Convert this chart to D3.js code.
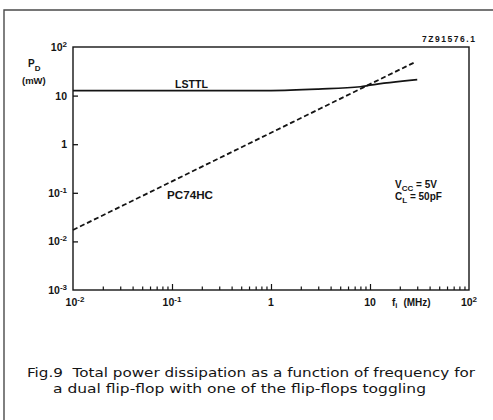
<!DOCTYPE html>
<html><head><meta charset="utf-8">
<script src="https://cdn.jsdelivr.net/npm/d3@7"></script>
<style>html,body{margin:0;padding:0;background:#fff}svg{display:block}</style>
</head><body><svg id="c" width="493" height="420"></svg>
<script>
// ---- data ----
const freqLSTTL = [0.01, 0.1, 1, 3, 8, 10, 30];
const powerLSTTL = [12.6, 12.6, 12.7, 13.6, 15.2, 16.4, 21.3];
const freqHC = [0.01, 0.1, 1, 10, 28];
const powerHC = [0.0172, 0.172, 1.72, 17.2, 48];
const xTickValues = [0.01, 0.1, 1, 10, 100];
const xTickLabels = ["10^-2", "10^-1", "1", "10", "10^2"];
const yTickValues = [100, 10, 1, 0.1, 0.01, 0.001];
const yTickLabels = ["10^2", "10", "1", "10^-1", "10^-2", "10^-3"];
const seriesNames = ["LSTTL", "PC74HC"];
const captionLines = [
  "Fig.9  Total power dissipation as a function of frequency for",
  "a dual flip-flop with one of the flip-flops toggling"
];

// ---- layout ----
const svg = d3.select("#c");
const ink = "#141414";
const L = 73, R = 469, T = 47, B = 290;
const x = d3.scaleLog().domain([0.01, 100]).range([L, R]);
const y = d3.scaleLog().domain([0.001, 100]).range([B, T]);
const font = "'Liberation Sans', Arial, sans-serif";

// outer frame
svg.append("path").attr("d", `M4,420 V10 H493`).attr("fill", "none")
  .attr("stroke", "#4a4a4a").attr("stroke-width", 1.4);

// plot box
svg.append("rect").attr("x", L).attr("y", T).attr("width", R - L).attr("height", B - T)
  .attr("fill", "none").attr("stroke", ink).attr("stroke-width", 1.4);

// x axis ticks (inward)
const minor = x.ticks().filter(v => !xTickValues.some(m => Math.abs(Math.log10(v) - Math.log10(m)) < 1e-6));
const gx = svg.append("g").attr("transform", `translate(0,${B})`);
gx.call(d3.axisBottom(x).tickValues(xTickValues.slice(1, -1)).tickSizeInner(-6).tickSizeOuter(0).tickFormat(""));
const gxm = svg.append("g").attr("transform", `translate(0,${B})`);
gxm.call(d3.axisBottom(x).tickValues(minor).tickSizeInner(-3.5).tickSizeOuter(0).tickFormat(""));
[gx, gxm].forEach(g => {
  g.select(".domain").remove();
  g.selectAll("line").attr("stroke", ink).attr("stroke-width", 1.2);
});

// y axis ticks (inward)
const gy = svg.append("g").attr("transform", `translate(${L},0)`);
gy.call(d3.axisLeft(y).tickValues(yTickValues.slice(1, -1)).tickSizeInner(-5).tickSizeOuter(0).tickFormat(""));
gy.select(".domain").remove();
gy.selectAll("line").attr("stroke", ink).attr("stroke-width", 1.3);

function powLabel(sel, s, supSize) {
  const parts = s.split("^");
  sel.append("tspan").text(parts[0]);
  if (parts[1]) sel.append("tspan").attr("dy", -4).attr("font-size", supSize).text(parts[1]);
}

// x tick labels
xTickValues.forEach((v, i) => {
  const t = svg.append("text").attr("x", x(v) + (i === 0 ? 2 : 0)).attr("y", 306)
    .attr("text-anchor", "middle").attr("font-family", font).attr("font-weight", "bold")
    .attr("font-size", 10.5).attr("fill", ink);
  powLabel(t, xTickLabels[i], 8);
});
// y tick labels
yTickValues.forEach((v, i) => {
  const t = svg.append("text").attr("x", 67).attr("y", y(v) + 4)
    .attr("text-anchor", "end").attr("font-family", font).attr("font-weight", "bold")
    .attr("font-size", 10.5).attr("fill", ink);
  powLabel(t, yTickLabels[i], 8);
});

// axis titles
const xt = svg.append("text").attr("x", 392).attr("y", 306).attr("font-family", font)
  .attr("font-weight", "bold").attr("font-size", 10).attr("fill", ink);
xt.append("tspan").text("f");
xt.append("tspan").attr("dy", 2).attr("font-size", 7.5).text("i");
xt.append("tspan").attr("dy", -2).attr("dx", 6).text("(MHz)");

const yt = svg.append("text").attr("x", 28).attr("y", 67).attr("font-family", font)
  .attr("font-weight", "bold").attr("font-size", 10).attr("fill", ink);
yt.append("tspan").text("P");
yt.append("tspan").attr("dy", 4).attr("font-size", 8).text("D");
svg.append("text").attr("x", 22).attr("y", 84).attr("font-family", font)
  .attr("font-weight", "bold").attr("font-size", 9.5).attr("fill", ink).text("(mW)");

// figure code
svg.append("text").attr("x", 475).attr("y", 42).attr("text-anchor", "end")
  .attr("font-family", font).attr("font-weight", "bold").attr("font-size", 8.5)
  .attr("fill", ink).attr("textLength", 53).attr("lengthAdjust", "spacing").text("7Z91576.1");

// series
const line = d3.line().x(d => x(d[0])).y(d => y(d[1])).curve(d3.curveMonotoneX);
svg.append("path").datum(d3.zip(freqLSTTL, powerLSTTL)).attr("d", line)
  .attr("fill", "none").attr("stroke", ink).attr("stroke-width", 1.7);
svg.append("path").datum(d3.zip(freqHC, powerHC)).attr("d", line)
  .attr("fill", "none").attr("stroke", ink).attr("stroke-width", 1.8)
  .attr("stroke-dasharray", "5,2.8");

// series labels
svg.append("text").attr("x", 175).attr("y", 88).attr("font-family", font)
  .attr("font-weight", "bold").attr("font-size", 10).attr("fill", ink)
  .attr("textLength", 33).attr("lengthAdjust", "spacingAndGlyphs").text(seriesNames[0]);
svg.append("text").attr("x", 167).attr("y", 199).attr("font-family", font)
  .attr("font-weight", "bold").attr("font-size", 10).attr("fill", ink)
  .attr("textLength", 46).attr("lengthAdjust", "spacingAndGlyphs").text(seriesNames[1]);

// conditions
const v1 = svg.append("text").attr("x", 395).attr("y", 188).attr("font-family", font)
  .attr("font-weight", "bold").attr("font-size", 10).attr("fill", ink);
v1.append("tspan").text("V");
v1.append("tspan").attr("dy", 2.5).attr("font-size", 8).text("CC");
v1.append("tspan").attr("dy", -2.5).text(" = 5V");
const c1 = svg.append("text").attr("x", 395).attr("y", 200).attr("font-family", font)
  .attr("font-weight", "bold").attr("font-size", 10).attr("fill", ink);
c1.append("tspan").text("C");
c1.append("tspan").attr("dy", 2.5).attr("font-size", 8).text("L");
c1.append("tspan").attr("dy", -2.5).text(" = 50pF");

// caption
const capFont = "'DejaVu Sans', sans-serif";
svg.append("text").attr("x", 27).attr("y", 377).attr("font-family", capFont)
  .attr("font-size", 12.5).attr("fill", ink).attr("textLength", 448)
  .attr("lengthAdjust", "spacingAndGlyphs").attr("xml:space", "preserve").text(captionLines[0]);
svg.append("text").attr("x", 53).attr("y", 393).attr("font-family", capFont)
  .attr("font-size", 12.5).attr("fill", ink).attr("textLength", 373)
  .attr("lengthAdjust", "spacingAndGlyphs").text(captionLines[1]);
</script></body></html>
